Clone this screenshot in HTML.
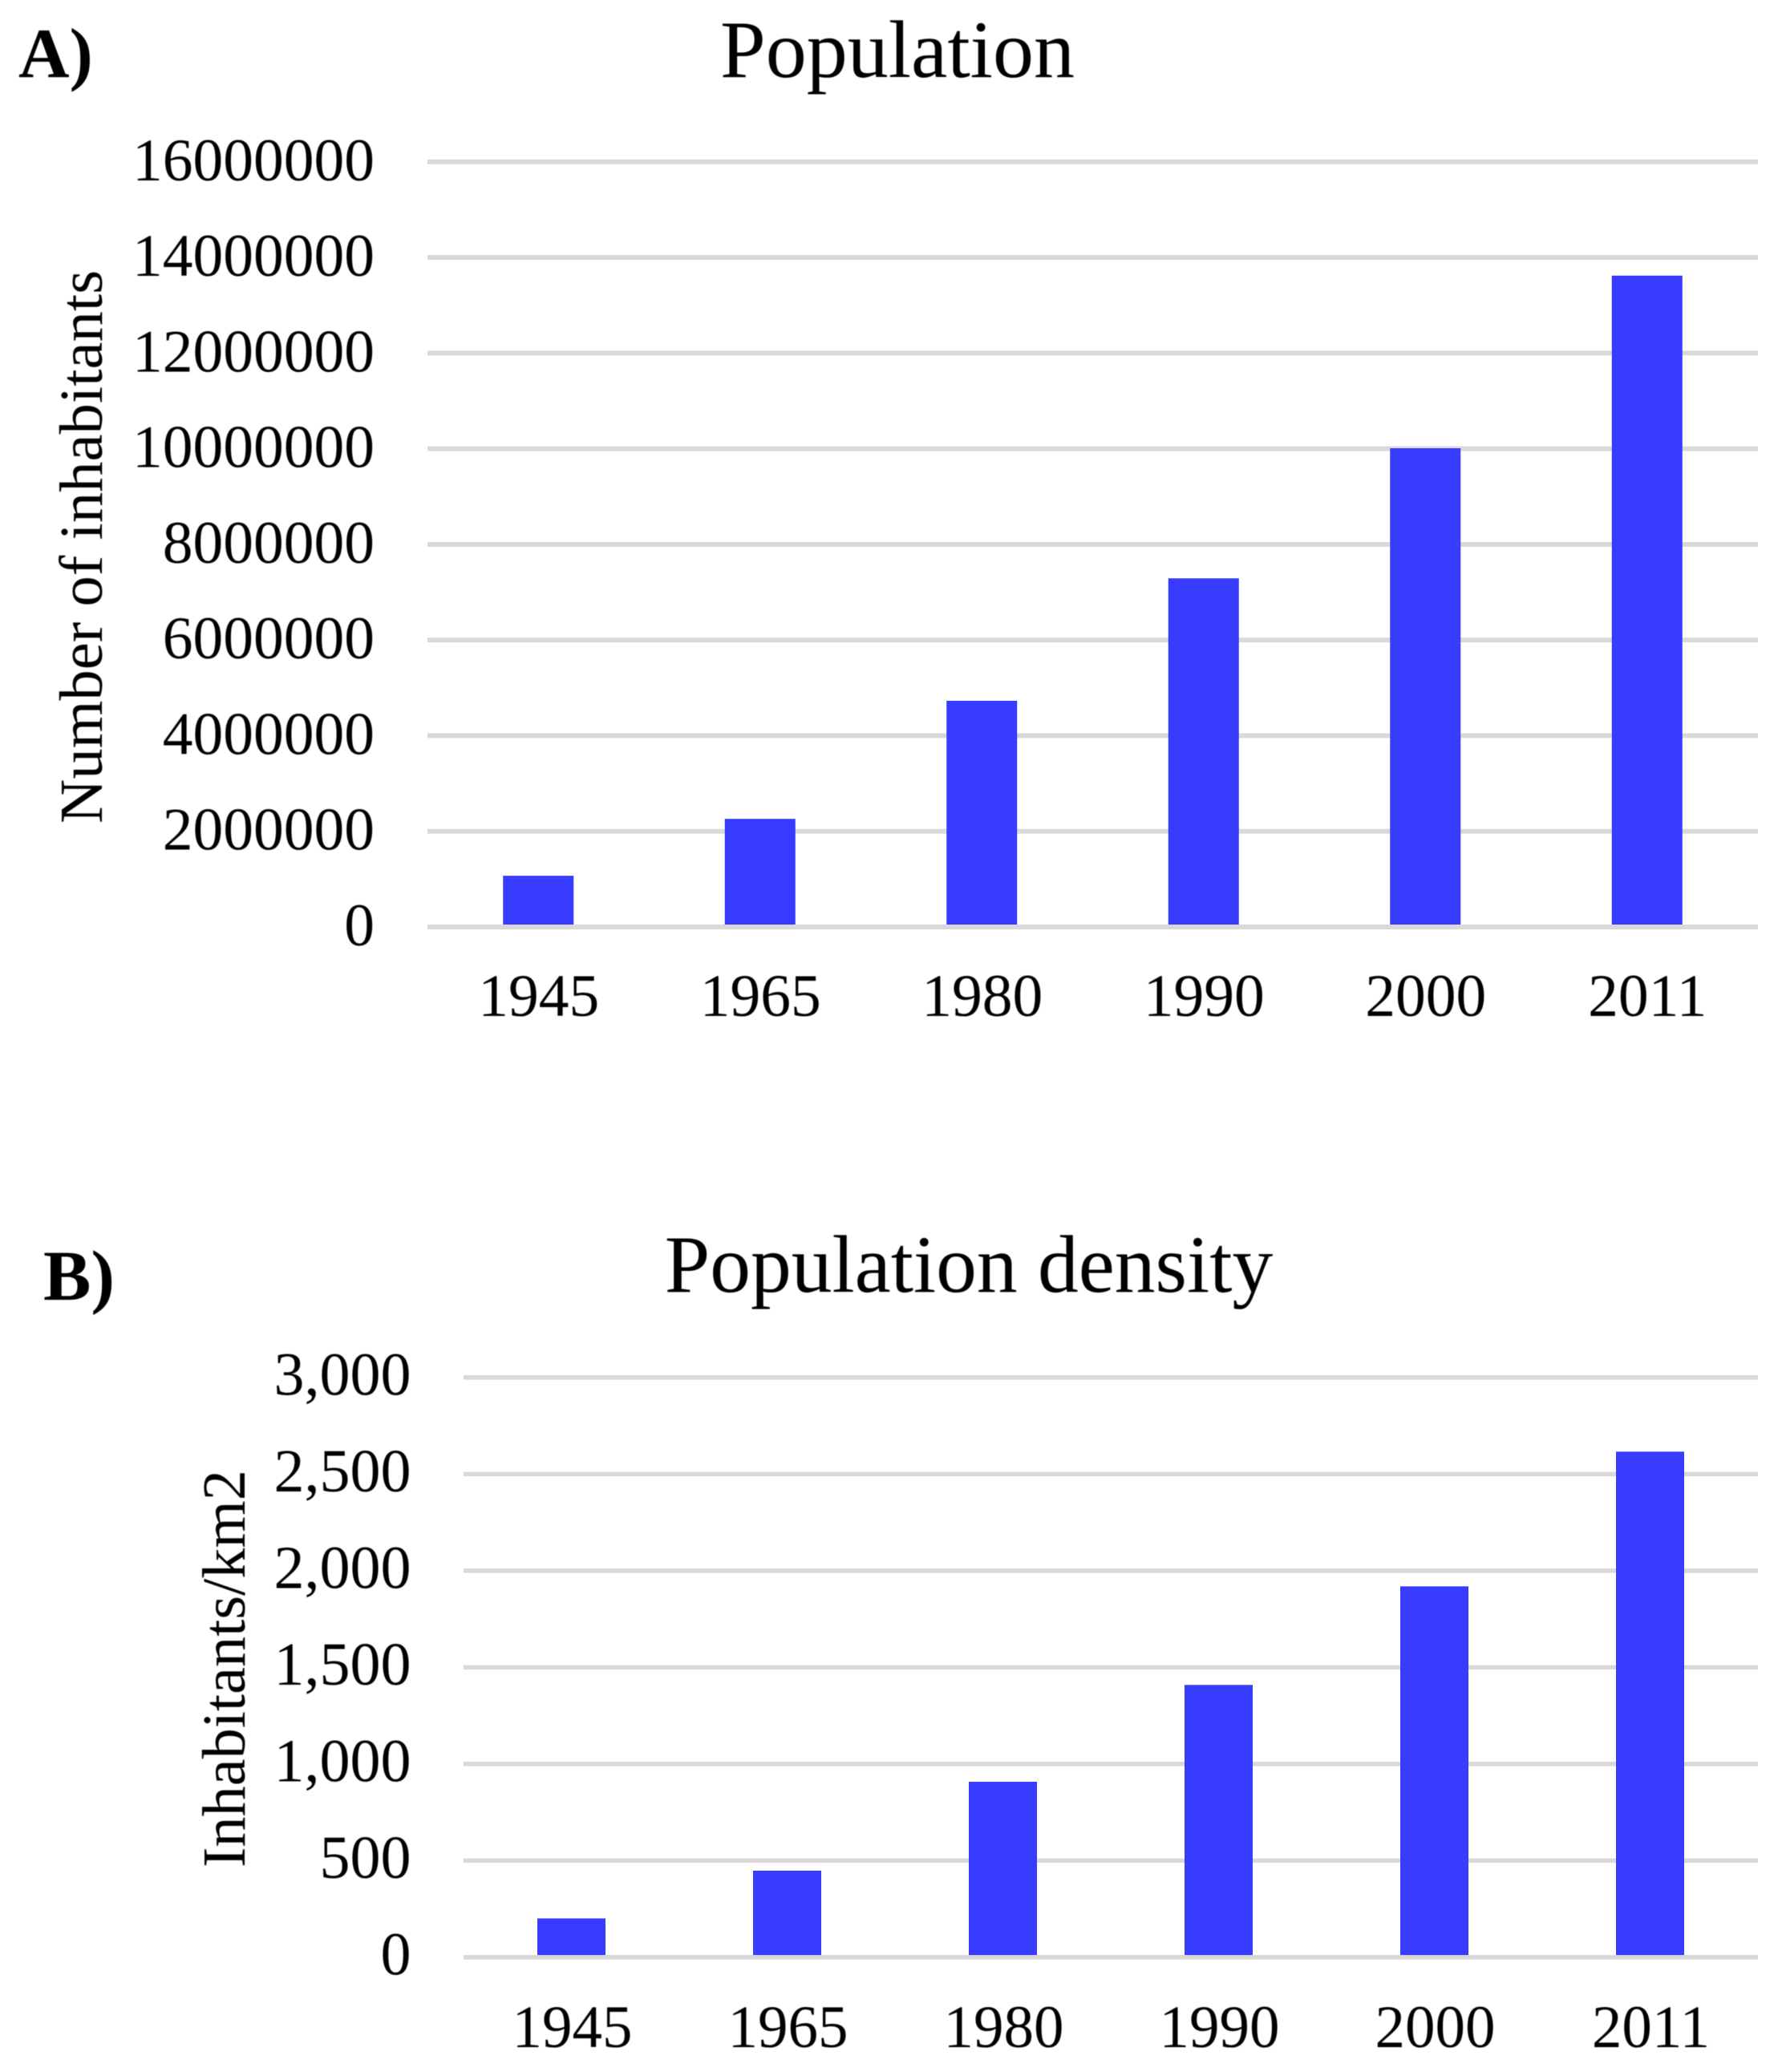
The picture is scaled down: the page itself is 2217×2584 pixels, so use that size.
<!DOCTYPE html>
<html lang="en">
<head>
<meta charset="utf-8">
<title>Population and population density</title>
<style>
html,body{margin:0;padding:0;background:#fff;}
body{width:2217px;height:2584px;overflow:hidden;}
svg{display:block;}
text{font-family:"Liberation Serif","Times New Roman",serif;fill:#000;filter:blur(0.6px);}
</style>
</head>
<body>
<svg id="figure" xmlns="http://www.w3.org/2000/svg" width="2217" height="2584" viewBox="0 0 2217 2584">
  <rect x="0" y="0" width="2217" height="2584" fill="#ffffff"/>
  <g id="panel-a">
    <text x="23" y="96" font-size="88" font-weight="700">A)</text>
    <text x="1119" y="96" font-size="102" text-anchor="middle">Population</text>
    <text transform="translate(127,1027) rotate(-90)" font-size="76.7">Number of inhabitants</text>
  </g>
  <g id="panel-b">
    <text x="54" y="1621" font-size="89" font-weight="700">B)</text>
    <text x="1208" y="1611" font-size="101.5" text-anchor="middle">Population density</text>
    <text transform="translate(305,2329) rotate(-90)" font-size="76.3">Inhabitants/km2</text>
  </g>
</svg>
<script>
const years = ['1945', '1965', '1980', '1990', '2000', '2011'];
const populationValues = [1070000, 2260000, 4730000, 7290000, 10010000, 13620000];
const populationTicks = [0, 2000000, 4000000, 6000000, 8000000, 10000000, 12000000, 14000000, 16000000];
const populationTickLabels = ['0', '2000000', '4000000', '6000000', '8000000', '10000000', '12000000', '14000000', '16000000'];
const densityValues = [201, 448, 908, 1409, 1919, 2616];
const densityTicks = [0, 500, 1000, 1500, 2000, 2500, 3000];
const densityTickLabels = ['0', '500', '1,000', '1,500', '2,000', '2,500', '3,000'];

const SVG_NS = 'http://www.w3.org/2000/svg';

function shape(parent, tag, attrs, content) {
  const el = document.createElementNS(SVG_NS, tag);
  for (const key in attrs) el.setAttribute(key, attrs[key]);
  if (content !== undefined) el.textContent = content;
  parent.appendChild(el);
  return el;
}

function drawChart(panel, cfg, categories, values, ticks, tickLabels) {
  const yScale = v => cfg.y0 + (v - ticks[0]) / (ticks[ticks.length - 1] - ticks[0]) * (cfg.yTop - cfg.y0);
  const band = (cfg.right - cfg.left) / categories.length;
  const xCenter = i => cfg.left + band * (i + 0.5);

  ticks.forEach((tick, i) => {
    const grid = shape(panel, 'rect', {
      x: cfg.left, y: yScale(tick) - cfg.gridHeight / 2,
      width: cfg.right - cfg.left, height: cfg.gridHeight, fill: '#d9d9d9'
    });
    
    

    const label = shape(panel, 'text', {
      x: cfg.tickRight, y: yScale(tick) + cfg.tickOffset,
      'font-size': cfg.tickFontSize, 'text-anchor': 'end'
    }, tickLabels[i]);
    
    
  });

  categories.forEach((category, i) => {
    const top = yScale(values[i]);
    const bar = shape(panel, 'rect', {
      x: xCenter(i) - cfg.barWidth / 2, y: top,
      width: cfg.barWidth, height: yScale(0) - top, fill: '#383cff'
    });
    
    

    const label = shape(panel, 'text', {
      x: xCenter(i) + cfg.xLabelShift, y: cfg.xLabelY,
      'font-size': cfg.xFontSize, 'text-anchor': 'middle'
    }, category);
    
    
  });

  const baseline = shape(panel, 'rect', {
    x: cfg.left, y: yScale(0) - cfg.gridHeight / 2,
    width: cfg.right - cfg.left, height: cfg.gridHeight, fill: '#d9d9d9'
  });
  
  
}

drawChart(document.getElementById('panel-a'), {
  prefix: 'population', left: 533, right: 2192, y0: 1156, yTop: 201.8,
  gridHeight: 6, barWidth: 88, tickFontSize: 75.5, xFontSize: 75.5, tickRight: 467, tickOffset: 23,
  xLabelY: 1267, xLabelShift: 0.5
}, years, populationValues, populationTicks, populationTickLabels);

drawChart(document.getElementById('panel-b'), {
  prefix: 'density', left: 578, right: 2192, y0: 2440.9, yTop: 1717.8,
  gridHeight: 5.5, barWidth: 85, tickFontSize: 76, xFontSize: 75, tickRight: 512.5, tickOffset: 21.5,
  xLabelY: 2553, xLabelShift: 1
}, years, densityValues, densityTicks, densityTickLabels);
</script>
</body>
</html>
